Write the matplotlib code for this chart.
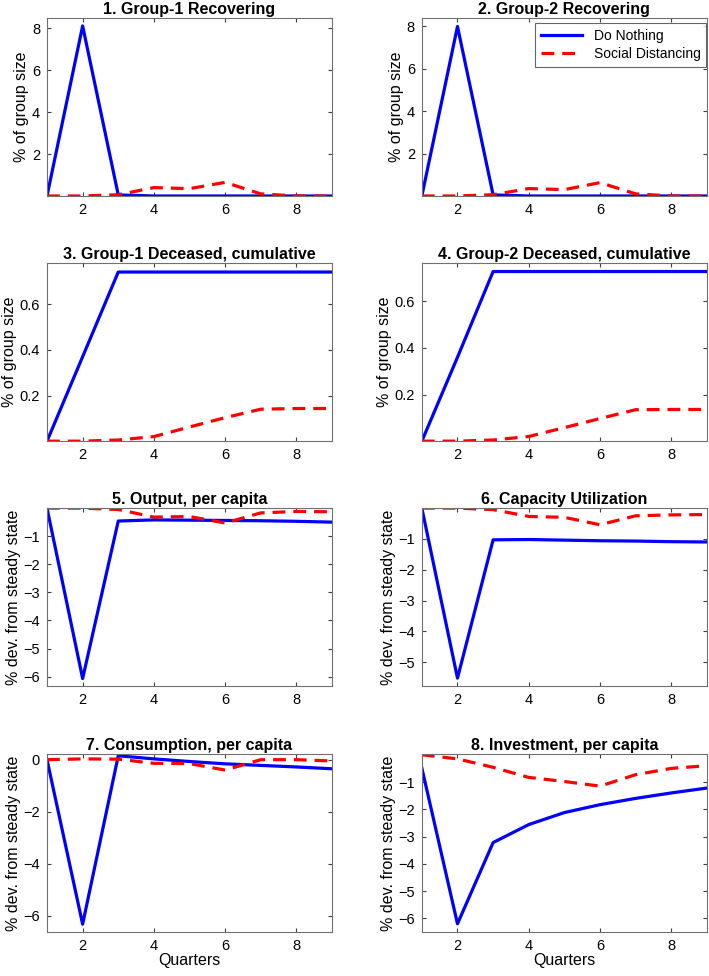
import matplotlib
matplotlib.use("Agg")
from matplotlib import pyplot as plt

plt.rcParams['font.family'] = ['Liberation Sans', 'DejaVu Sans']

quarters = [1, 2, 3, 4, 5, 6, 7, 8, 9]

titles = ["1. Group-1 Recovering", "2. Group-2 Recovering",
          "3. Group-1 Deceased, cumulative", "4. Group-2 Deceased, cumulative",
          "5. Output, per capita", "6. Capacity Utilization",
          "7. Consumption, per capita", "8. Investment, per capita"]

do_nothing = [
    [0, 8.12, 0.05, 0, 0, 0, 0, 0, 0],
    [0, 8.0, 0.05, 0, 0, 0, 0, 0, 0],
    [0, 0.37, 0.741, 0.741, 0.741, 0.741, 0.741, 0.741, 0.741],
    [0, 0.36, 0.728, 0.728, 0.728, 0.728, 0.728, 0.728, 0.728],
    [0, -6.07, -0.46, -0.42, -0.43, -0.44, -0.45, -0.47, -0.5],
    [0, -5.52, -1.03, -1.02, -1.04, -1.06, -1.07, -1.09, -1.1],
    [0, -6.33, 0.15, 0.03, -0.07, -0.16, -0.22, -0.28, -0.35],
    [-0.49, -6.2, -3.22, -2.56, -2.12, -1.83, -1.6, -1.4, -1.22],
]

social_distancing = [
    [0, 0, 0.06, 0.4, 0.35, 0.65, 0.1, 0, 0],
    [0, 0, 0.06, 0.35, 0.3, 0.63, 0.1, 0, 0],
    [0, 0, 0.005, 0.02, 0.062, 0.103, 0.14, 0.143, 0.143],
    [0, 0, 0.005, 0.02, 0.058, 0.097, 0.135, 0.136, 0.136],
    [0, 0, -0.05, -0.32, -0.3, -0.53, -0.17, -0.12, -0.13],
    [0, 0, -0.05, -0.27, -0.3, -0.54, -0.25, -0.22, -0.21],
    [0, 0.03, 0.02, -0.14, -0.15, -0.4, 0, 0, -0.05],
    [0, -0.15, -0.46, -0.83, -0.98, -1.15, -0.73, -0.5, -0.4],
]

ylims = [(0, 8.5), (0, 8.4), (0, 0.78), (0, 0.764),
         (-6.34, 0), (-5.78, 0), (-6.63, 0.22), (-6.5, 0.03)]
yticks = [[2, 4, 6, 8], [2, 4, 6, 8], [0.2, 0.4, 0.6], [0.2, 0.4, 0.6],
          [-6, -5, -4, -3, -2, -1], [-5, -4, -3, -2, -1],
          [-6, -4, -2, 0], [-6, -5, -4, -3, -2, -1]]

fig = plt.figure(figsize=(7.09, 9.76), dpi=100)

lefts = [0.0663, 0.595]
bottoms = [0.7992, 0.548, 0.297, 0.0451]
w, h = 0.402, 0.1824

for i in range(8):
    r, c = divmod(i, 2)
    ax = fig.add_axes([lefts[c], bottoms[r], w, h])
    ax.plot(quarters, do_nothing[i], color='blue', lw=2.3, label='Do Nothing')
    ax.plot(quarters, social_distancing[i], color='red', lw=2.3,
            dashes=(4, 2.5), label='Social Distancing')
    ax.set_xlim(1, 9)
    ax.set_ylim(*ylims[i])
    ax.set_xticks([2, 4, 6, 8])
    ax.set_yticks(yticks[i])
    ax.set_title(titles[i], fontsize=11.5, fontweight='bold', pad=3)
    ax.tick_params(direction='in', top=True, right=True, labelsize=10.5,
                   length=3, pad=5, color='#404040')
    for s in ax.spines.values():
        s.set_color('#707070')
        s.set_linewidth(0.8)
    if r < 2:
        ax.set_ylabel('% of group size', fontsize=11.5, labelpad=2)
    else:
        ax.set_ylabel('% dev. from steady state', fontsize=11.5, labelpad=2)
    if r == 3:
        ax.set_xlabel('Quarters', fontsize=11.5, labelpad=0)
    if i == 1:
        leg = ax.legend(loc='upper right', bbox_to_anchor=(0.997, 0.97),
                        fontsize=10, fancybox=False, handlelength=3.0,
                        borderaxespad=0, labelspacing=0.3)
        leg.get_frame().set_edgecolor('#404040')
        leg.get_frame().set_linewidth(0.8)

fig.savefig('out.png', dpi=100)
